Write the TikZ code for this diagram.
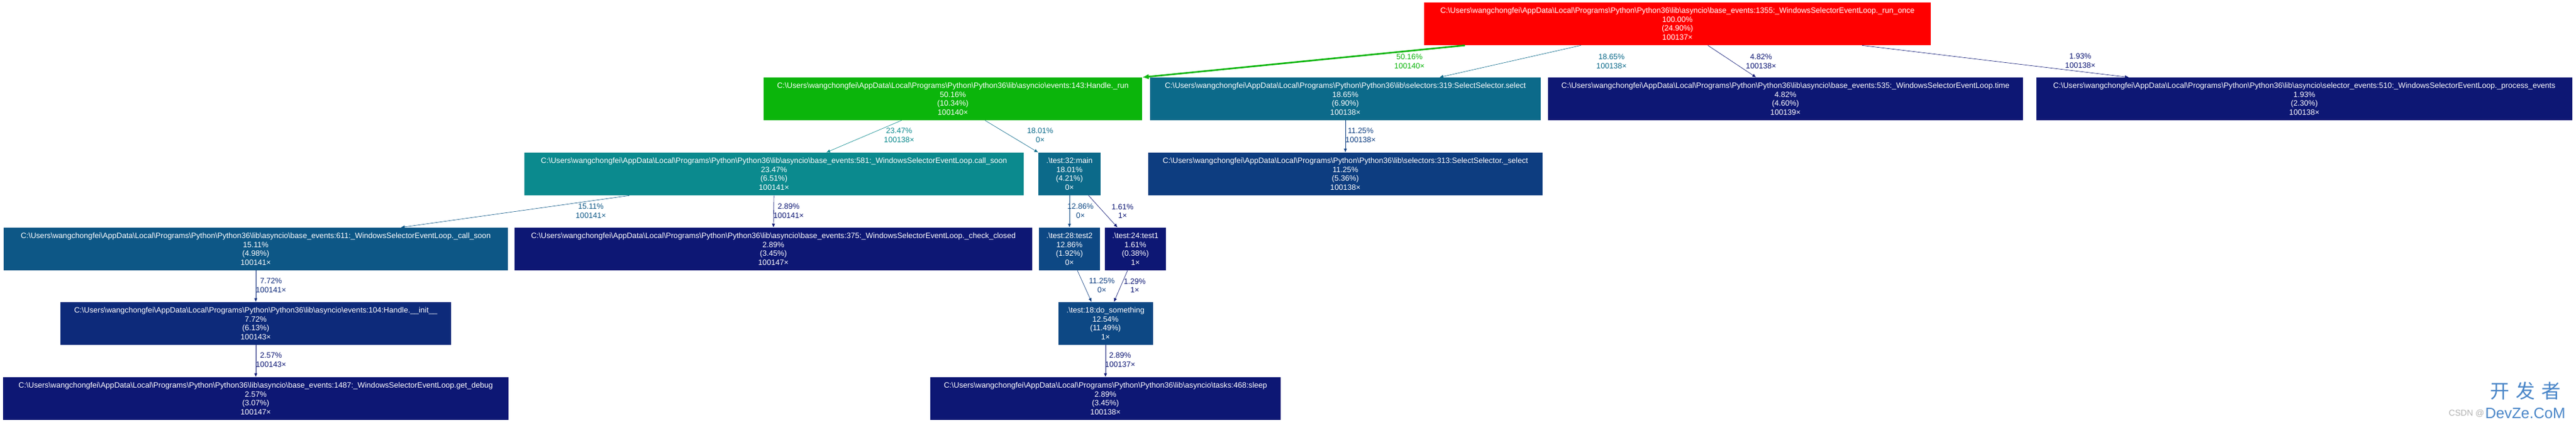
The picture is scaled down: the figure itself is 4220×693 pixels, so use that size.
\documentclass[tikz,border=0pt]{standalone}
\usepackage{fontspec}
\setmainfont{Liberation Sans}
\newfontfamily\cjk{Noto Sans CJK SC}
\usetikzlibrary{arrows.meta,calc}
\definecolor{hotred}{HTML}{FF0000}
\definecolor{hotgreen}{HTML}{0BB50B}
\definecolor{teal23}{HTML}{0B8A8E}
\definecolor{blue18}{HTML}{0C6A8A}
\definecolor{blue15}{HTML}{0D5786}
\definecolor{blue12}{HTML}{0D4884}
\definecolor{blue11}{HTML}{0D3D80}
\definecolor{blue7}{HTML}{0D2A7A}
\definecolor{navy}{HTML}{0D1774}
\definecolor{markblue}{HTML}{4A86C8}
\newcommand{\pylib}{C:\textbackslash Users\textbackslash wangchongfei\textbackslash AppData\textbackslash Local\textbackslash Programs\textbackslash Python\textbackslash Python36\textbackslash lib\textbackslash}
\begin{document}
\begin{tikzpicture}[x=0.02cm,y=-0.02cm,
    fn/.style={fill=#1,text=white,minimum height=1.4cm,inner sep=0pt,align=center,
      font=\fontsize{7.2}{8.4}\selectfont},
    call/.style={draw=#1,line width=0.35pt,-{Latex[length=3.5pt,width=3pt]}},
    lbl/.style={text=#1,inner sep=0pt,align=center,font=\fontsize{7.2}{8.4}\selectfont}]
  \useasboundingbox[fill=white] (0,0) rectangle (4220,693);

  \node[fn=hotred,minimum width=16.6cm] (run_once) at (2748,39)
    {\pylib asyncio\textbackslash base\_events:1355:\_WindowsSelectorEventLoop.\_run\_once\\100.00\%\\(24.90\%)\\100137×};
  \node[fn=hotgreen,minimum width=12.4cm] (handle_run) at (1561,162)
    {\pylib asyncio\textbackslash events:143:Handle.\_run\\50.16\%\\(10.34\%)\\100140×};
  \node[fn=blue18,minimum width=12.82cm] (sel_select) at (2204,162)
    {\pylib selectors:319:SelectSelector.select\\18.65\%\\(6.90\%)\\100138×};
  \node[fn=navy,minimum width=15.56cm] (loop_time) at (2925,162)
    {\pylib asyncio\textbackslash base\_events:535:\_WindowsSelectorEventLoop.time\\4.82\%\\(4.60\%)\\100139×};
  \node[fn=navy,minimum width=17.58cm] (proc_events) at (3775,162)
    {\pylib asyncio\textbackslash selector\_events:510:\_WindowsSelectorEventLoop.\_process\_events\\1.93\%\\(2.30\%)\\100138×};

  \node[fn=teal23,minimum width=16.36cm] (call_soon) at (1268,285)
    {\pylib asyncio\textbackslash base\_events:581:\_WindowsSelectorEventLoop.call\_soon\\23.47\%\\(6.51\%)\\100141×};
  \node[fn=blue18,minimum width=2.04cm] (main) at (1752,285)
    {.\textbackslash test:32:main\\18.01\%\\(4.21\%)\\0×};
  \node[fn=blue11,minimum width=12.94cm] (sel_inner) at (2204,285)
    {\pylib selectors:313:SelectSelector.\_select\\11.25\%\\(5.36\%)\\100138×};

  \node[fn=blue15,minimum width=16.52cm] (call_soon_int) at (419,408)
    {\pylib asyncio\textbackslash base\_events:611:\_WindowsSelectorEventLoop.\_call\_soon\\15.11\%\\(4.98\%)\\100141×};
  \node[fn=navy,minimum width=16.96cm] (check_closed) at (1267,408)
    {\pylib asyncio\textbackslash base\_events:375:\_WindowsSelectorEventLoop.\_check\_closed\\2.89\%\\(3.45\%)\\100147×};
  \node[fn=blue12,minimum width=2.0cm] (test2) at (1752,408)
    {.\textbackslash test:28:test2\\12.86\%\\(1.92\%)\\0×};
  \node[fn=navy,minimum width=2.0cm] (test1) at (1860,408)
    {.\textbackslash test:24:test1\\1.61\%\\(0.38\%)\\1×};

  \node[fn=blue7,minimum width=12.82cm] (handle_init) at (419,530)
    {\pylib asyncio\textbackslash events:104:Handle.\_\_init\_\_\\7.72\%\\(6.13\%)\\100143×};
  \node[fn=blue12,minimum width=3.1cm] (do_something) at (1811,530)
    {.\textbackslash test:18:do\_something\\12.54\%\\(11.49\%)\\1×};

  \node[fn=navy,minimum width=16.58cm] (get_debug) at (419,653)
    {\pylib asyncio\textbackslash base\_events:1487:\_WindowsSelectorEventLoop.get\_debug\\2.57\%\\(3.07\%)\\100147×};
  \node[fn=navy,minimum width=11.5cm] (sleep) at (1811,653)
    {\pylib asyncio\textbackslash tasks:468:sleep\\2.89\%\\(3.45\%)\\100138×};

  \draw[call=hotgreen,line width=1.5pt,-{Latex[length=6pt,width=5pt]}]
    ($(run_once.south west)+(67,0)$) -- (handle_run.north east);
  \draw[call=blue18] ($(run_once.south west)+(257,0)$) -- ($(sel_select.north west)+(475,0)$);
  \draw[call=navy] ($(run_once.south west)+(465,0)$) -- ($(loop_time.north west)+(341,0)$);
  \draw[call=navy] ($(run_once.south east)+(-113,0)$) -- ($(proc_events.north west)+(152,0)$);
  \draw[call=teal23] ($(handle_run.south west)+(226,0)$) -- ($(call_soon.north west)+(495,0)$);
  \draw[call=blue18] ($(handle_run.south west)+(363,0)$) -- (main.north west);
  \draw[call=blue11] (sel_select.south) -- (sel_inner.north);
  \draw[call=blue15] ($(call_soon.south west)+(172,0)$) -- ($(call_soon_int.north west)+(651,0)$);
  \draw[call=navy] (call_soon.south) -- (check_closed.north);
  \draw[call=blue12] (main.south) -- (test2.north);
  \draw[call=navy] ($(main.south east)+(-20,0)$) -- ($(test1.north west)+(21,0)$);
  \draw[call=blue7] (call_soon_int.south) -- (handle_init.north);
  \draw[call=navy] (handle_init.south) -- (get_debug.north);
  \draw[call=blue11] ($(test2.south)+(13,0)$) -- ($(do_something.north west)+(55,0)$);
  \draw[call=navy] ($(test1.south)+(-13,0)$) -- ($(do_something.north east)+(-64,0)$);
  \draw[call=navy] (do_something.south) -- (sleep.north);

  \node[lbl=hotgreen] (l_run) at (2309,101) {50.16\%\\100140×};
  \node[lbl=blue18] (l_select) at (2640,101) {18.65\%\\100138×};
  \node[lbl=navy] (l_time) at (2885,101) {4.82\%\\100138×};
  \node[lbl=navy] (l_events) at (3408,100) {1.93\%\\100138×};
  \node[lbl=teal23] (l_soon) at (1473,222) {23.47\%\\100138×};
  \node[lbl=blue18] (l_main) at (1704,222) {18.01\%\\0×};
  \node[lbl=blue11] (l_inner) at (2229,222) {11.25\%\\100138×};
  \node[lbl=blue15] (l_soon_int) at (968,346) {15.11\%\\100141×};
  \node[lbl=navy] (l_closed) at (1292,346) {2.89\%\\100141×};
  \node[lbl=blue12] (l_test2) at (1770,346) {12.86\%\\0×};
  \node[lbl=navy] (l_test1) at (1839,346) {1.61\%\\1×};
  \node[lbl=blue7] (l_init) at (444,468) {7.72\%\\100141×};
  \node[lbl=navy] (l_debug) at (444,590) {2.57\%\\100143×};
  \node[lbl=blue11] (l_do2) at (1805,468) {11.25\%\\0×};
  \node[lbl=navy] (l_do1) at (1859,468) {1.29\%\\1×};
  \node[lbl=navy] (l_sleep) at (1835,590) {2.89\%\\100137×};

  \node[text=markblue,inner sep=0pt,font=\cjk\fontsize{18}{20}\selectfont] (mark_cn) at (4137,640) {开\,\,发\,\,者};
  \node[text=markblue,inner sep=0pt,font=\fontsize{14}{15}\selectfont] (mark_en) at (4137,677) {DevZe.CoM};
  \node[text=gray!60,inner sep=0pt,anchor=east,font=\fontsize{8}{9}\selectfont] (mark_csdn) at (4070,677) {CSDN @};
\end{tikzpicture}
\end{document}
